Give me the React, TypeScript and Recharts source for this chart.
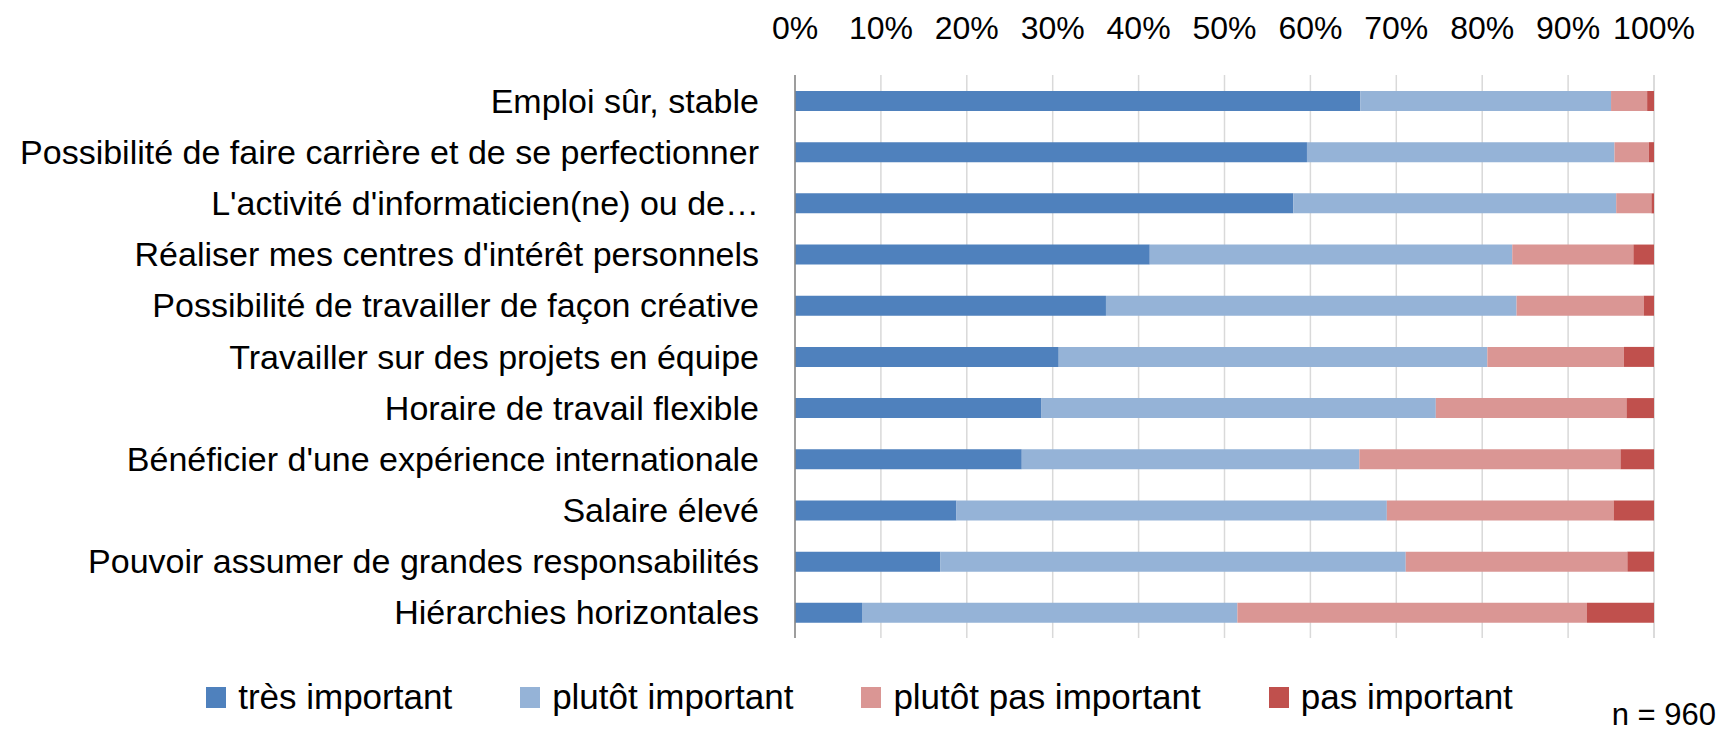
import { BarChart, Bar, XAxis, YAxis, CartesianGrid, Legend } from 'recharts';

const categories = [
  'Emploi sûr, stable',
  'Possibilité de faire carrière et de se perfectionner',
  "L'activité d'informaticien(ne) ou de…",
  "Réaliser mes centres d'intérêt personnels",
  'Possibilité de travailler de façon créative',
  'Travailler sur des projets en équipe',
  'Horaire de travail flexible',
  "Bénéficier d'une expérience internationale",
  'Salaire élevé',
  'Pouvoir assumer de grandes responsabilités',
  'Hiérarchies horizontales',
];

const tresImportant = [65.8, 59.6, 58.0, 41.3, 36.2, 30.7, 28.7, 26.4, 18.8, 16.9, 7.8];
const plutotImportant = [29.2, 35.8, 37.6, 42.2, 47.8, 49.9, 45.9, 39.3, 50.1, 54.2, 43.7];
const plutotPasImportant = [4.2, 4.0, 4.1, 14.1, 14.8, 15.9, 22.2, 30.4, 26.4, 25.8, 40.7];
const pasImportant = [0.8, 0.6, 0.3, 2.4, 1.2, 3.5, 3.2, 3.9, 4.7, 3.1, 7.8];

const ticks = [0, 10, 20, 30, 40, 50, 60, 70, 80, 90, 100];

const series = [
  { key: 'tres', name: 'très important', color: '#4F81BD' },
  { key: 'plutot', name: 'plutôt important', color: '#95B3D7' },
  { key: 'plutotPas', name: 'plutôt pas important', color: '#DA9694' },
  { key: 'pas', name: 'pas important', color: '#C0504D' },
];

const data = categories.map((name, i) => ({
  name,
  tres: tresImportant[i],
  plutot: plutotImportant[i],
  plutotPas: plutotPasImportant[i],
  pas: pasImportant[i],
}));

const FONT = '"Liberation Sans", Arial, sans-serif';

function renderLegend() {
  return (
    <div style={{ display: 'flex', justifyContent: 'center', height: 40, alignItems: 'center', fontFamily: FONT, fontSize: 35 }}>
      {series.map(s => (
        <div key={s.key} style={{ display: 'flex', alignItems: 'center', margin: '0 34px' }}>
          <span style={{ width: 20, height: 21, background: s.color, marginRight: 12, display: 'inline-block' }} />
          <span>{s.name}</span>
        </div>
      ))}
    </div>
  );
}

export default function App() {
  return (
    <div style={{ position: 'absolute', left: 0, top: 0, width: 1719, height: 734, background: '#fff', overflow: 'hidden' }}>
      <BarChart
        width={1719}
        height={734}
        layout="vertical"
        data={data}
        barSize={20}
        margin={{ top: 0, right: 65, bottom: 56, left: 0 }}
      >
        <CartesianGrid horizontal={false} stroke="#D9D9D9" strokeWidth={1.5} />
        <XAxis
          type="number"
          orientation="top"
          domain={[0, 100]}
          ticks={ticks}
          tickFormatter={(v: number) => `${v}%`}
          height={75}
          axisLine={false}
          tickLine={false}
          tickMargin={30}
          tick={{ fill: '#000', fontSize: 32, fontFamily: FONT }}
        />
        <YAxis
          type="category"
          dataKey="name"
          width={795}
          axisLine={{ stroke: '#868686', strokeWidth: 1.5 }}
          tickLine={false}
          tickSize={0}
          tickMargin={36}
          interval={0}
          tick={{ fill: '#000', fontSize: 34, fontFamily: FONT }}
        />
        {series.map(s => (
          <Bar key={s.key} dataKey={s.key} name={s.name} stackId="a" fill={s.color} isAnimationActive={false} />
        ))}
        <Legend verticalAlign="bottom" content={renderLegend} wrapperStyle={{ top: 677, left: 0, width: 1719 }} />
      </BarChart>
      <div style={{ position: 'absolute', right: 3, top: 697, fontFamily: FONT, fontSize: 31, lineHeight: '36px', color: '#000' }}>n = 960</div>
    </div>
  );
}
